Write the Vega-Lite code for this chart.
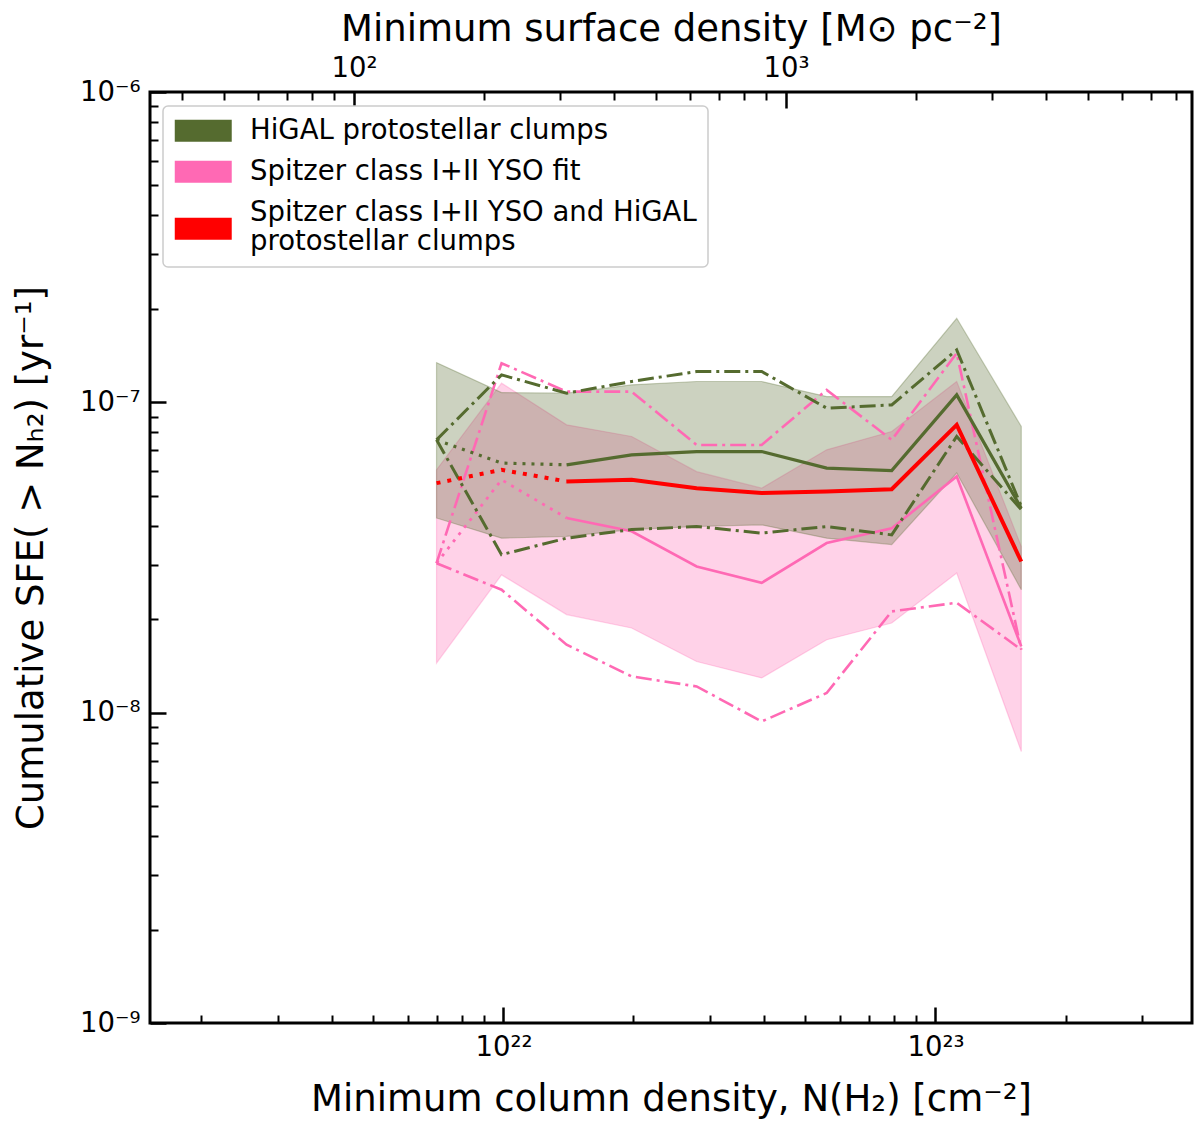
{
  "$schema": "https://vega.github.io/schema/vega-lite/v6.json",
  "description": "Cumulative SFE above a column density threshold, HiGAL clumps vs Spitzer YSOs.",
  "width": 1042,
  "height": 931,
  "autosize": "none",
  "padding": {"left": 150, "top": 92, "right": 8, "bottom": 101},
  "data": {
    "values": [
      {"series": "HiGAL protostellar clumps", "N": 7.0e21, "med": 7.57e-8, "lo": 7.57e-8, "hi": 7.57e-8, "blo": 4.24e-8, "bhi": 1.343e-7},
      {"series": "HiGAL protostellar clumps", "N": 9.9e21, "med": 6.37e-8, "lo": 3.23e-8, "hi": 1.226e-7, "blo": 3.65e-8, "bhi": 1.075e-7},
      {"series": "HiGAL protostellar clumps", "N": 1.4e22, "med": 6.29e-8, "lo": 3.65e-8, "hi": 1.07e-7, "blo": 3.70e-8, "bhi": 1.07e-7},
      {"series": "HiGAL protostellar clumps", "N": 1.98e22, "med": 6.77e-8, "lo": 3.89e-8, "hi": 1.167e-7, "blo": 3.89e-8, "bhi": 1.139e-7},
      {"series": "HiGAL protostellar clumps", "N": 2.8e22, "med": 6.94e-8, "lo": 3.98e-8, "hi": 1.257e-7, "blo": 3.98e-8, "bhi": 1.167e-7},
      {"series": "HiGAL protostellar clumps", "N": 3.96e22, "med": 6.94e-8, "lo": 3.79e-8, "hi": 1.257e-7, "blo": 4.03e-8, "bhi": 1.167e-7},
      {"series": "HiGAL protostellar clumps", "N": 5.6e22, "med": 6.14e-8, "lo": 3.98e-8, "hi": 9.58e-8, "blo": 3.65e-8, "bhi": 1.044e-7},
      {"series": "HiGAL protostellar clumps", "N": 7.92e22, "med": 6.03e-8, "lo": 3.74e-8, "hi": 9.81e-8, "blo": 3.48e-8, "bhi": 1.044e-7},
      {"series": "HiGAL protostellar clumps", "N": 1.12e23, "med": 1.057e-7, "lo": 7.76e-8, "hi": 1.476e-7, "blo": 5.92e-8, "bhi": 1.866e-7},
      {"series": "HiGAL protostellar clumps", "N": 1.58e23, "med": 4.56e-8, "lo": 4.51e-8, "hi": 4.62e-8, "blo": 2.49e-8, "bhi": 8.36e-8},
      {"series": "Spitzer class I+II YSO fit", "N": 7.0e21, "med": 3.03e-8, "lo": 3.03e-8, "hi": 3.03e-8, "blo": 1.445e-8, "bhi": 6.06e-8},
      {"series": "Spitzer class I+II YSO fit", "N": 9.9e21, "med": 5.63e-8, "lo": 2.49e-8, "hi": 1.337e-7, "blo": 2.78e-8, "bhi": 1.153e-7},
      {"series": "Spitzer class I+II YSO fit", "N": 1.4e22, "med": 4.24e-8, "lo": 1.656e-8, "hi": 1.083e-7, "blo": 2.07e-8, "bhi": 8.46e-8},
      {"series": "Spitzer class I+II YSO fit", "N": 1.98e22, "med": 3.84e-8, "lo": 1.309e-8, "hi": 1.083e-7, "blo": 1.874e-8, "bhi": 7.76e-8},
      {"series": "Spitzer class I+II YSO fit", "N": 2.8e22, "med": 2.96e-8, "lo": 1.215e-8, "hi": 7.29e-8, "blo": 1.462e-8, "bhi": 5.98e-8},
      {"series": "Spitzer class I+II YSO fit", "N": 3.96e22, "med": 2.62e-8, "lo": 9.37e-9, "hi": 7.29e-8, "blo": 1.294e-8, "bhi": 5.29e-8},
      {"series": "Spitzer class I+II YSO fit", "N": 5.6e22, "med": 3.52e-8, "lo": 1.157e-8, "hi": 1.097e-7, "blo": 1.718e-8, "bhi": 7.03e-8},
      {"series": "Spitzer class I+II YSO fit", "N": 7.92e22, "med": 3.93e-8, "lo": 2.12e-8, "hi": 7.57e-8, "blo": 1.945e-8, "bhi": 8.05e-8},
      {"series": "Spitzer class I+II YSO fit", "N": 1.12e23, "med": 5.77e-8, "lo": 2.26e-8, "hi": 1.44e-7, "blo": 2.82e-8, "bhi": 1.167e-7},
      {"series": "Spitzer class I+II YSO fit", "N": 1.58e23, "med": 1.635e-8, "lo": 1.596e-8, "hi": 1.596e-8, "blo": 7.5e-9, "bhi": 3.43e-8},
      {"series": "Spitzer class I+II YSO and HiGAL protostellar clumps", "N": 7.0e21, "med": 5.49e-8},
      {"series": "Spitzer class I+II YSO and HiGAL protostellar clumps", "N": 9.9e21, "med": 6.06e-8},
      {"series": "Spitzer class I+II YSO and HiGAL protostellar clumps", "N": 1.4e22, "med": 5.56e-8},
      {"series": "Spitzer class I+II YSO and HiGAL protostellar clumps", "N": 1.98e22, "med": 5.63e-8},
      {"series": "Spitzer class I+II YSO and HiGAL protostellar clumps", "N": 2.8e22, "med": 5.29e-8},
      {"series": "Spitzer class I+II YSO and HiGAL protostellar clumps", "N": 3.96e22, "med": 5.10e-8},
      {"series": "Spitzer class I+II YSO and HiGAL protostellar clumps", "N": 5.6e22, "med": 5.16e-8},
      {"series": "Spitzer class I+II YSO and HiGAL protostellar clumps", "N": 7.92e22, "med": 5.25e-8},
      {"series": "Spitzer class I+II YSO and HiGAL protostellar clumps", "N": 1.12e23, "med": 8.46e-8},
      {"series": "Spitzer class I+II YSO and HiGAL protostellar clumps", "N": 1.58e23, "med": 3.07e-8}
    ]
  },
  "resolve": {"axis": {"x": "independent", "y": "independent"}},
  "layer": [
    {
      "transform": [{"filter": "datum.series == 'Spitzer class I+II YSO fit'"}],
      "mark": {"type": "area", "color": "#FF69B4", "fillOpacity": 0.3, "stroke": "#FF69B4", "strokeWidth": 1.2, "strokeOpacity": 0.3},
      "encoding": {
        "x": {
          "field": "N", "type": "quantitative",
          "scale": {"type": "log", "domain": [1.52e21, 3.925e23], "nice": false},
          "axis": {
            "orient": "bottom", "values": [1e22, 1e23], "tickSize": -16, "labelPadding": 26,
            "labelFlush": false,
            "labelExpr": "datum.value < 5e22 ? '10²²' : '10²³'",
            "title": "Minimum column density, N(H₂) [cm⁻²]",
            "titleY": 87, "titleBaseline": "alphabetic"
          }
        },
        "y": {
          "field": "blo", "type": "quantitative",
          "scale": {"type": "log", "domain": [1e-9, 1e-6], "nice": false},
          "axis": {
            "orient": "left", "values": [1e-9, 1e-8, 1e-7, 1e-6], "tickSize": -16, "labelPadding": 26,
            "labelExpr": "datum.value > 5e-7 ? '10⁻⁶' : datum.value > 5e-8 ? '10⁻⁷' : datum.value > 5e-9 ? '10⁻⁸' : '10⁻⁹'",
            "title": "Cumulative SFE( > Nₕ₂) [yr⁻¹]",
            "titleX": -108, "titleY": 465.5, "titleAngle": -90, "titleAlign": "center", "titleBaseline": "alphabetic"
          }
        },
        "y2": {"field": "bhi"}
      }
    },
    {
      "transform": [{"filter": "datum.series == 'HiGAL protostellar clumps'"}],
      "mark": {"type": "area", "color": "#556B2F", "fillOpacity": 0.3, "stroke": "#556B2F", "strokeWidth": 1.2, "strokeOpacity": 0.3},
      "encoding": {
        "x": {
          "field": "N", "type": "quantitative",
          "axis": {
            "orient": "bottom", "labels": false, "title": null, "tickSize": -8, "tickWidth": 2,
            "values": [2e21, 3e21, 4e21, 5e21, 6e21, 7e21, 8e21, 9e21, 2e22, 3e22, 4e22, 5e22, 6e22, 7e22, 8e22, 9e22, 2e23, 3e23]
          }
        },
        "y": {
          "field": "blo", "type": "quantitative",
          "axis": {
            "orient": "left", "labels": false, "title": null, "tickSize": -8, "tickWidth": 2,
            "values": [2e-9, 3e-9, 4e-9, 5e-9, 6e-9, 7e-9, 8e-9, 9e-9, 2e-8, 3e-8, 4e-8, 5e-8, 6e-8, 7e-8, 8e-8, 9e-8, 2e-7, 3e-7, 4e-7, 5e-7, 6e-7, 7e-7, 8e-7, 9e-7]
          }
        },
        "y2": {"field": "bhi"}
      }
    },
    {
      "transform": [{"filter": "datum.series == 'Spitzer class I+II YSO fit'"}],
      "mark": {"type": "line", "color": "#FF69B4", "strokeWidth": 2.6, "strokeDash": [16, 5, 3, 5]},
      "encoding": {
        "x": {"field": "N", "type": "quantitative", "axis": null},
        "y": {"field": "hi", "type": "quantitative", "axis": null}
      }
    },
    {
      "transform": [{"filter": "datum.series == 'Spitzer class I+II YSO fit'"}],
      "mark": {"type": "line", "color": "#FF69B4", "strokeWidth": 2.6, "strokeDash": [16, 5, 3, 5]},
      "encoding": {
        "x": {"field": "N", "type": "quantitative", "axis": null},
        "y": {"field": "lo", "type": "quantitative", "axis": null}
      }
    },
    {
      "transform": [{"filter": "datum.series == 'Spitzer class I+II YSO fit' && datum.N < 1.5e22"}],
      "mark": {"type": "line", "color": "#FF69B4", "strokeWidth": 2.8, "strokeDash": [3, 6]},
      "encoding": {
        "x": {"field": "N", "type": "quantitative", "axis": null},
        "y": {"field": "med", "type": "quantitative", "axis": null}
      }
    },
    {
      "transform": [{"filter": "datum.series == 'Spitzer class I+II YSO fit' && datum.N > 1.3e22"}],
      "mark": {"type": "line", "color": "#FF69B4", "strokeWidth": 2.6},
      "encoding": {
        "x": {"field": "N", "type": "quantitative", "axis": null},
        "y": {"field": "med", "type": "quantitative", "axis": null}
      }
    },
    {
      "transform": [{"filter": "datum.series == 'HiGAL protostellar clumps'"}],
      "mark": {"type": "line", "color": "#556B2F", "strokeWidth": 3, "strokeDash": [16, 5, 3, 5]},
      "encoding": {
        "x": {
          "field": "N", "type": "quantitative",
          "axis": {
            "orient": "top", "values": [4.51e21, 4.51e22], "tickSize": -16, "labelPadding": 26,
            "labelFlush": false,
            "labelExpr": "datum.value < 1e22 ? '10²' : '10³'",
            "title": "Minimum surface density [M⊙ pc⁻²]",
            "titleY": -52, "titleBaseline": "alphabetic"
          }
        },
        "y": {"field": "hi", "type": "quantitative", "axis": null}
      }
    },
    {
      "transform": [{"filter": "datum.series == 'HiGAL protostellar clumps'"}],
      "mark": {"type": "line", "color": "#556B2F", "strokeWidth": 3, "strokeDash": [16, 5, 3, 5]},
      "encoding": {
        "x": {
          "field": "N", "type": "quantitative",
          "axis": {
            "orient": "top", "labels": false, "title": null, "tickSize": -8, "tickWidth": 2,
            "values": [1.804e21, 2.255e21, 2.706e21, 3.157e21, 3.608e21, 4.059e21, 9.02e21, 1.353e22, 1.804e22, 2.255e22, 2.706e22, 3.157e22, 3.608e22, 4.059e22, 9.02e22, 1.353e23, 1.804e23, 2.255e23, 2.706e23, 3.157e23, 3.608e23]
          }
        },
        "y": {"field": "lo", "type": "quantitative", "axis": null}
      }
    },
    {
      "transform": [{"filter": "datum.series == 'HiGAL protostellar clumps' && datum.N < 1.5e22"}],
      "mark": {"type": "line", "color": "#556B2F", "strokeWidth": 3.2, "strokeDash": [3, 6]},
      "encoding": {
        "x": {"field": "N", "type": "quantitative", "axis": null},
        "y": {"field": "med", "type": "quantitative", "axis": null}
      }
    },
    {
      "transform": [{"filter": "datum.series == 'HiGAL protostellar clumps' && datum.N > 1.3e22"}],
      "mark": {"type": "line", "color": "#556B2F", "strokeWidth": 3.2},
      "encoding": {
        "x": {"field": "N", "type": "quantitative", "axis": null},
        "y": {"field": "med", "type": "quantitative", "axis": null}
      }
    },
    {
      "transform": [{"filter": "datum.series == 'Spitzer class I+II YSO and HiGAL protostellar clumps' && datum.N < 1.5e22"}],
      "mark": {"type": "line", "color": "#FF0000", "strokeWidth": 4, "strokeDash": [4, 7]},
      "encoding": {
        "x": {"field": "N", "type": "quantitative", "axis": null},
        "y": {"field": "med", "type": "quantitative", "axis": null}
      }
    },
    {
      "transform": [{"filter": "datum.series == 'Spitzer class I+II YSO and HiGAL protostellar clumps' && datum.N > 1.3e22"}],
      "mark": {"type": "line", "color": "#FF0000", "strokeWidth": 4},
      "encoding": {
        "x": {"field": "N", "type": "quantitative", "axis": null},
        "y": {"field": "med", "type": "quantitative", "axis": null}
      }
    },
    {
      "mark": {"type": "point", "filled": true, "opacity": 0},
      "encoding": {
        "x": {"field": "N", "type": "quantitative", "axis": null},
        "y": {"field": "med", "type": "quantitative", "axis": null},
        "color": {
          "field": "series", "type": "nominal",
          "scale": {
            "domain": ["HiGAL protostellar clumps", "Spitzer class I+II YSO fit", "Spitzer class I+II YSO and HiGAL protostellar clumps"],
            "range": ["#556B2F", "#FF69B4", "#FF0000"]
          },
          "legend": {
            "orient": "none", "legendX": 13, "legendY": 14, "title": null,
            "symbolSize": 484, "symbolStrokeWidth": 0, "symbolOpacity": 1, "symbolOffset": 15.5,
            "labelFont": "DejaVu Sans", "labelFontSize": 27.5, "labelColor": "black", "labelLimit": 700, "labelOffset": 33,
            "rowPadding": 12, "padding": 11,
            "fillColor": "white", "strokeColor": "#cccccc", "cornerRadius": 5,
            "labelExpr": "datum.label == 'Spitzer class I+II YSO and HiGAL protostellar clumps' ? ['Spitzer class I+II YSO and HiGAL', 'protostellar clumps'] : datum.label"
          }
        },
        "shape": {
          "field": "series", "type": "nominal",
          "scale": {
            "domain": ["HiGAL protostellar clumps", "Spitzer class I+II YSO fit", "Spitzer class I+II YSO and HiGAL protostellar clumps"],
            "range": ["M-2.59,-1H2.59V1H-2.59Z", "M-2.59,-1H2.59V1H-2.59Z", "M-2.59,0.45H2.59V2.45H-2.59Z"]
          },
          "legend": {
            "orient": "none", "legendX": 13, "legendY": 14, "title": null,
            "symbolSize": 484, "symbolStrokeWidth": 0, "symbolOpacity": 1, "symbolOffset": 15.5,
            "labelFont": "DejaVu Sans", "labelFontSize": 27.5, "labelColor": "black", "labelLimit": 700, "labelOffset": 33,
            "rowPadding": 12, "padding": 11,
            "fillColor": "white", "strokeColor": "#cccccc", "cornerRadius": 5,
            "labelExpr": "datum.label == 'Spitzer class I+II YSO and HiGAL protostellar clumps' ? ['Spitzer class I+II YSO and HiGAL', 'protostellar clumps'] : datum.label"
          }
        }
      }
    }
  ],
  "config": {
    "font": "DejaVu Sans",
    "view": {"stroke": "#000000", "strokeWidth": 3},
    "legend": {"strokeWidth": 1.5},
    "axis": {
      "grid": false, "domain": false,
      "tickColor": "#000000", "tickWidth": 2.5,
      "labelFont": "DejaVu Sans", "labelFontSize": 27.5, "labelColor": "#000000",
      "titleFont": "DejaVu Sans", "titleFontSize": 37, "titleFontWeight": "normal", "titleColor": "#000000"
    }
  }
}
